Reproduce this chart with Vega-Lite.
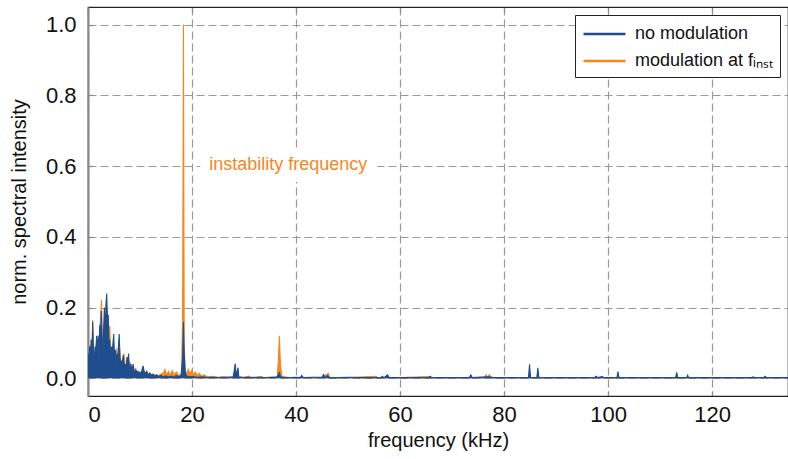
{
  "$schema": "https://vega.github.io/schema/vega-lite/v6.json",
  "width": 700,
  "height": 389,
  "autosize": "none",
  "padding": {"left": 88, "top": 7, "right": 0, "bottom": 63},
  "background": "white",
  "config": {
    "font": "Liberation Sans",
    "view": {"stroke": "#222", "strokeWidth": 1.2},
    "axis": {
      "labelFont": "Liberation Sans",
      "titleFont": "Liberation Sans",
      "labelFontSize": 22,
      "titleFontSize": 20,
      "labelColor": "#111",
      "titleColor": "#111",
      "titleFontWeight": "normal",
      "gridColor": "#999",
      "gridDash": [8, 4],
      "gridWidth": 1.2,
      "tickColor": "#888",
      "tickWidth": 1.2
    }
  },
  "datasets": {
    "spec": [
      {"f": 0.0, "v": 0.06, "s": "modulation at f_inst"},
      {"f": 0.15, "v": 0.03, "s": "modulation at f_inst"},
      {"f": 0.3, "v": 0.09, "s": "modulation at f_inst"},
      {"f": 0.4, "v": 0.093, "s": "modulation at f_inst"},
      {"f": 0.5, "v": 0.05, "s": "modulation at f_inst"},
      {"f": 0.75, "v": 0.06, "s": "modulation at f_inst"},
      {"f": 0.9, "v": 0.165, "s": "modulation at f_inst"},
      {"f": 1.05, "v": 0.07, "s": "modulation at f_inst"},
      {"f": 1.3, "v": 0.05, "s": "modulation at f_inst"},
      {"f": 1.65, "v": 0.11, "s": "modulation at f_inst"},
      {"f": 1.95, "v": 0.10, "s": "modulation at f_inst"},
      {"f": 2.25, "v": 0.13, "s": "modulation at f_inst"},
      {"f": 2.6, "v": 0.222, "s": "modulation at f_inst"},
      {"f": 2.75, "v": 0.1, "s": "modulation at f_inst"},
      {"f": 3.0, "v": 0.12, "s": "modulation at f_inst"},
      {"f": 3.45, "v": 0.17, "s": "modulation at f_inst"},
      {"f": 3.6, "v": 0.2, "s": "modulation at f_inst"},
      {"f": 3.9, "v": 0.15, "s": "modulation at f_inst"},
      {"f": 4.2, "v": 0.145, "s": "modulation at f_inst"},
      {"f": 4.35, "v": 0.05, "s": "modulation at f_inst"},
      {"f": 4.8, "v": 0.08, "s": "modulation at f_inst"},
      {"f": 5.1, "v": 0.05, "s": "modulation at f_inst"},
      {"f": 5.5, "v": 0.085, "s": "modulation at f_inst"},
      {"f": 5.7, "v": 0.04, "s": "modulation at f_inst"},
      {"f": 6.0, "v": 0.1, "s": "modulation at f_inst"},
      {"f": 6.3, "v": 0.03, "s": "modulation at f_inst"},
      {"f": 6.9, "v": 0.07, "s": "modulation at f_inst"},
      {"f": 7.2, "v": 0.03, "s": "modulation at f_inst"},
      {"f": 7.8, "v": 0.05, "s": "modulation at f_inst"},
      {"f": 8.6, "v": 0.03, "s": "modulation at f_inst"},
      {"f": 9.2, "v": 0.02, "s": "modulation at f_inst"},
      {"f": 10.0, "v": 0.015, "s": "modulation at f_inst"},
      {"f": 10.6, "v": 0.02, "s": "modulation at f_inst"},
      {"f": 11.5, "v": 0.012, "s": "modulation at f_inst"},
      {"f": 12.5, "v": 0.01, "s": "modulation at f_inst"},
      {"f": 13.5, "v": 0.008, "s": "modulation at f_inst"},
      {"f": 14.5, "v": 0.015, "s": "modulation at f_inst"},
      {"f": 14.8, "v": 0.025, "s": "modulation at f_inst"},
      {"f": 15.1, "v": 0.01, "s": "modulation at f_inst"},
      {"f": 15.5, "v": 0.02, "s": "modulation at f_inst"},
      {"f": 15.8, "v": 0.008, "s": "modulation at f_inst"},
      {"f": 16.2, "v": 0.022, "s": "modulation at f_inst"},
      {"f": 16.5, "v": 0.01, "s": "modulation at f_inst"},
      {"f": 17.0, "v": 0.018, "s": "modulation at f_inst"},
      {"f": 17.5, "v": 0.008, "s": "modulation at f_inst"},
      {"f": 18.0, "v": 0.012, "s": "modulation at f_inst"},
      {"f": 18.2, "v": 0.2, "s": "modulation at f_inst"},
      {"f": 18.35, "v": 1.0, "s": "modulation at f_inst"},
      {"f": 18.5, "v": 0.1, "s": "modulation at f_inst"},
      {"f": 18.7, "v": 0.02, "s": "modulation at f_inst"},
      {"f": 19.0, "v": 0.015, "s": "modulation at f_inst"},
      {"f": 19.3, "v": 0.025, "s": "modulation at f_inst"},
      {"f": 19.6, "v": 0.012, "s": "modulation at f_inst"},
      {"f": 19.9, "v": 0.022, "s": "modulation at f_inst"},
      {"f": 20.2, "v": 0.01, "s": "modulation at f_inst"},
      {"f": 20.6, "v": 0.018, "s": "modulation at f_inst"},
      {"f": 21.0, "v": 0.008, "s": "modulation at f_inst"},
      {"f": 21.4, "v": 0.014, "s": "modulation at f_inst"},
      {"f": 21.8, "v": 0.006, "s": "modulation at f_inst"},
      {"f": 22.3, "v": 0.01, "s": "modulation at f_inst"},
      {"f": 23.0, "v": 0.004, "s": "modulation at f_inst"},
      {"f": 24.0, "v": 0.006, "s": "modulation at f_inst"},
      {"f": 25.0, "v": 0.003, "s": "modulation at f_inst"},
      {"f": 26.0, "v": 0.004, "s": "modulation at f_inst"},
      {"f": 28.0, "v": 0.003, "s": "modulation at f_inst"},
      {"f": 30.0, "v": 0.003, "s": "modulation at f_inst"},
      {"f": 30.9, "v": 0.006, "s": "modulation at f_inst"},
      {"f": 31.2, "v": 0.002, "s": "modulation at f_inst"},
      {"f": 33.4, "v": 0.005, "s": "modulation at f_inst"},
      {"f": 33.7, "v": 0.002, "s": "modulation at f_inst"},
      {"f": 36.4, "v": 0.003, "s": "modulation at f_inst"},
      {"f": 36.6, "v": 0.05, "s": "modulation at f_inst"},
      {"f": 36.8, "v": 0.12, "s": "modulation at f_inst"},
      {"f": 37.0, "v": 0.04, "s": "modulation at f_inst"},
      {"f": 37.3, "v": 0.003, "s": "modulation at f_inst"},
      {"f": 37.6, "v": 0.006, "s": "modulation at f_inst"},
      {"f": 37.9, "v": 0.002, "s": "modulation at f_inst"},
      {"f": 40.0, "v": 0.002, "s": "modulation at f_inst"},
      {"f": 45.0, "v": 0.002, "s": "modulation at f_inst"},
      {"f": 46.2, "v": 0.014, "s": "modulation at f_inst"},
      {"f": 46.5, "v": 0.002, "s": "modulation at f_inst"},
      {"f": 50.0, "v": 0.002, "s": "modulation at f_inst"},
      {"f": 55.4, "v": 0.006, "s": "modulation at f_inst"},
      {"f": 55.7, "v": 0.002, "s": "modulation at f_inst"},
      {"f": 60.0, "v": 0.002, "s": "modulation at f_inst"},
      {"f": 65.8, "v": 0.005, "s": "modulation at f_inst"},
      {"f": 66.1, "v": 0.002, "s": "modulation at f_inst"},
      {"f": 70.0, "v": 0.002, "s": "modulation at f_inst"},
      {"f": 76.3, "v": 0.002, "s": "modulation at f_inst"},
      {"f": 76.5, "v": 0.01, "s": "modulation at f_inst"},
      {"f": 76.8, "v": 0.004, "s": "modulation at f_inst"},
      {"f": 77.2, "v": 0.01, "s": "modulation at f_inst"},
      {"f": 77.5, "v": 0.002, "s": "modulation at f_inst"},
      {"f": 80.0, "v": 0.002, "s": "modulation at f_inst"},
      {"f": 90.0, "v": 0.002, "s": "modulation at f_inst"},
      {"f": 100.0, "v": 0.002, "s": "modulation at f_inst"},
      {"f": 110.0, "v": 0.002, "s": "modulation at f_inst"},
      {"f": 120.0, "v": 0.002, "s": "modulation at f_inst"},
      {"f": 134.6, "v": 0.002, "s": "modulation at f_inst"},

      {"f": 0.0, "v": 0.07, "s": "no modulation"},
      {"f": 0.15, "v": 0.03, "s": "no modulation"},
      {"f": 0.3, "v": 0.09, "s": "no modulation"},
      {"f": 0.45, "v": 0.05, "s": "no modulation"},
      {"f": 0.6, "v": 0.11, "s": "no modulation"},
      {"f": 0.75, "v": 0.06, "s": "no modulation"},
      {"f": 0.9, "v": 0.16, "s": "no modulation"},
      {"f": 1.05, "v": 0.08, "s": "no modulation"},
      {"f": 1.2, "v": 0.04, "s": "no modulation"},
      {"f": 1.35, "v": 0.09, "s": "no modulation"},
      {"f": 1.5, "v": 0.06, "s": "no modulation"},
      {"f": 1.65, "v": 0.12, "s": "no modulation"},
      {"f": 1.8, "v": 0.07, "s": "no modulation"},
      {"f": 1.95, "v": 0.12, "s": "no modulation"},
      {"f": 2.1, "v": 0.05, "s": "no modulation"},
      {"f": 2.25, "v": 0.15, "s": "no modulation"},
      {"f": 2.4, "v": 0.09, "s": "no modulation"},
      {"f": 2.55, "v": 0.19, "s": "no modulation"},
      {"f": 2.7, "v": 0.12, "s": "no modulation"},
      {"f": 2.85, "v": 0.05, "s": "no modulation"},
      {"f": 3.0, "v": 0.14, "s": "no modulation"},
      {"f": 3.15, "v": 0.2, "s": "no modulation"},
      {"f": 3.3, "v": 0.11, "s": "no modulation"},
      {"f": 3.45, "v": 0.21, "s": "no modulation"},
      {"f": 3.6, "v": 0.24, "s": "no modulation"},
      {"f": 3.75, "v": 0.15, "s": "no modulation"},
      {"f": 3.9, "v": 0.18, "s": "no modulation"},
      {"f": 4.05, "v": 0.08, "s": "no modulation"},
      {"f": 4.2, "v": 0.11, "s": "no modulation"},
      {"f": 4.35, "v": 0.04, "s": "no modulation"},
      {"f": 4.5, "v": 0.09, "s": "no modulation"},
      {"f": 4.65, "v": 0.07, "s": "no modulation"},
      {"f": 4.8, "v": 0.1, "s": "no modulation"},
      {"f": 4.95, "v": 0.125, "s": "no modulation"},
      {"f": 5.1, "v": 0.06, "s": "no modulation"},
      {"f": 5.25, "v": 0.08, "s": "no modulation"},
      {"f": 5.4, "v": 0.03, "s": "no modulation"},
      {"f": 5.55, "v": 0.07, "s": "no modulation"},
      {"f": 5.7, "v": 0.05, "s": "no modulation"},
      {"f": 5.85, "v": 0.09, "s": "no modulation"},
      {"f": 6.0, "v": 0.125, "s": "no modulation"},
      {"f": 6.15, "v": 0.06, "s": "no modulation"},
      {"f": 6.3, "v": 0.035, "s": "no modulation"},
      {"f": 6.45, "v": 0.05, "s": "no modulation"},
      {"f": 6.6, "v": 0.03, "s": "no modulation"},
      {"f": 6.75, "v": 0.065, "s": "no modulation"},
      {"f": 6.9, "v": 0.05, "s": "no modulation"},
      {"f": 7.05, "v": 0.02, "s": "no modulation"},
      {"f": 7.2, "v": 0.04, "s": "no modulation"},
      {"f": 7.35, "v": 0.03, "s": "no modulation"},
      {"f": 7.5, "v": 0.06, "s": "no modulation"},
      {"f": 7.65, "v": 0.045, "s": "no modulation"},
      {"f": 7.8, "v": 0.07, "s": "no modulation"},
      {"f": 7.95, "v": 0.03, "s": "no modulation"},
      {"f": 8.1, "v": 0.02, "s": "no modulation"},
      {"f": 8.25, "v": 0.04, "s": "no modulation"},
      {"f": 8.4, "v": 0.025, "s": "no modulation"},
      {"f": 8.55, "v": 0.03, "s": "no modulation"},
      {"f": 8.7, "v": 0.04, "s": "no modulation"},
      {"f": 8.85, "v": 0.02, "s": "no modulation"},
      {"f": 9.0, "v": 0.015, "s": "no modulation"},
      {"f": 9.2, "v": 0.025, "s": "no modulation"},
      {"f": 9.4, "v": 0.015, "s": "no modulation"},
      {"f": 9.6, "v": 0.02, "s": "no modulation"},
      {"f": 9.8, "v": 0.012, "s": "no modulation"},
      {"f": 10.0, "v": 0.018, "s": "no modulation"},
      {"f": 10.2, "v": 0.01, "s": "no modulation"},
      {"f": 10.4, "v": 0.025, "s": "no modulation"},
      {"f": 10.6, "v": 0.035, "s": "no modulation"},
      {"f": 10.8, "v": 0.02, "s": "no modulation"},
      {"f": 11.0, "v": 0.012, "s": "no modulation"},
      {"f": 11.3, "v": 0.02, "s": "no modulation"},
      {"f": 11.6, "v": 0.01, "s": "no modulation"},
      {"f": 11.9, "v": 0.015, "s": "no modulation"},
      {"f": 12.2, "v": 0.008, "s": "no modulation"},
      {"f": 12.5, "v": 0.012, "s": "no modulation"},
      {"f": 12.8, "v": 0.006, "s": "no modulation"},
      {"f": 13.2, "v": 0.01, "s": "no modulation"},
      {"f": 13.6, "v": 0.005, "s": "no modulation"},
      {"f": 14.0, "v": 0.008, "s": "no modulation"},
      {"f": 14.5, "v": 0.004, "s": "no modulation"},
      {"f": 15.0, "v": 0.007, "s": "no modulation"},
      {"f": 15.5, "v": 0.004, "s": "no modulation"},
      {"f": 16.0, "v": 0.006, "s": "no modulation"},
      {"f": 16.5, "v": 0.003, "s": "no modulation"},
      {"f": 17.0, "v": 0.008, "s": "no modulation"},
      {"f": 17.5, "v": 0.004, "s": "no modulation"},
      {"f": 17.9, "v": 0.01, "s": "no modulation"},
      {"f": 18.2, "v": 0.06, "s": "no modulation"},
      {"f": 18.35, "v": 0.16, "s": "no modulation"},
      {"f": 18.5, "v": 0.07, "s": "no modulation"},
      {"f": 18.7, "v": 0.015, "s": "no modulation"},
      {"f": 19.0, "v": 0.006, "s": "no modulation"},
      {"f": 19.5, "v": 0.004, "s": "no modulation"},
      {"f": 20.0, "v": 0.005, "s": "no modulation"},
      {"f": 21.0, "v": 0.003, "s": "no modulation"},
      {"f": 22.0, "v": 0.004, "s": "no modulation"},
      {"f": 23.0, "v": 0.002, "s": "no modulation"},
      {"f": 24.0, "v": 0.003, "s": "no modulation"},
      {"f": 25.0, "v": 0.002, "s": "no modulation"},
      {"f": 26.0, "v": 0.003, "s": "no modulation"},
      {"f": 27.0, "v": 0.003, "s": "no modulation"},
      {"f": 27.9, "v": 0.004, "s": "no modulation"},
      {"f": 28.1, "v": 0.02, "s": "no modulation"},
      {"f": 28.3, "v": 0.042, "s": "no modulation"},
      {"f": 28.5, "v": 0.01, "s": "no modulation"},
      {"f": 28.7, "v": 0.02, "s": "no modulation"},
      {"f": 28.85, "v": 0.03, "s": "no modulation"},
      {"f": 29.0, "v": 0.004, "s": "no modulation"},
      {"f": 30.0, "v": 0.002, "s": "no modulation"},
      {"f": 31.0, "v": 0.003, "s": "no modulation"},
      {"f": 32.0, "v": 0.002, "s": "no modulation"},
      {"f": 33.0, "v": 0.003, "s": "no modulation"},
      {"f": 34.0, "v": 0.002, "s": "no modulation"},
      {"f": 35.0, "v": 0.003, "s": "no modulation"},
      {"f": 36.3, "v": 0.004, "s": "no modulation"},
      {"f": 36.6, "v": 0.01, "s": "no modulation"},
      {"f": 36.8, "v": 0.016, "s": "no modulation"},
      {"f": 37.0, "v": 0.006, "s": "no modulation"},
      {"f": 37.3, "v": 0.002, "s": "no modulation"},
      {"f": 38.0, "v": 0.003, "s": "no modulation"},
      {"f": 39.0, "v": 0.002, "s": "no modulation"},
      {"f": 40.0, "v": 0.003, "s": "no modulation"},
      {"f": 40.8, "v": 0.002, "s": "no modulation"},
      {"f": 41.1, "v": 0.008, "s": "no modulation"},
      {"f": 41.4, "v": 0.002, "s": "no modulation"},
      {"f": 43.0, "v": 0.003, "s": "no modulation"},
      {"f": 45.0, "v": 0.003, "s": "no modulation"},
      {"f": 45.3, "v": 0.011, "s": "no modulation"},
      {"f": 45.6, "v": 0.002, "s": "no modulation"},
      {"f": 46.1, "v": 0.008, "s": "no modulation"},
      {"f": 46.4, "v": 0.002, "s": "no modulation"},
      {"f": 48.0, "v": 0.002, "s": "no modulation"},
      {"f": 50.0, "v": 0.003, "s": "no modulation"},
      {"f": 52.0, "v": 0.002, "s": "no modulation"},
      {"f": 54.0, "v": 0.002, "s": "no modulation"},
      {"f": 56.3, "v": 0.002, "s": "no modulation"},
      {"f": 56.6, "v": 0.006, "s": "no modulation"},
      {"f": 56.9, "v": 0.002, "s": "no modulation"},
      {"f": 57.6, "v": 0.01, "s": "no modulation"},
      {"f": 57.9, "v": 0.002, "s": "no modulation"},
      {"f": 60.0, "v": 0.002, "s": "no modulation"},
      {"f": 62.0, "v": 0.002, "s": "no modulation"},
      {"f": 65.5, "v": 0.002, "s": "no modulation"},
      {"f": 65.8, "v": 0.006, "s": "no modulation"},
      {"f": 66.1, "v": 0.002, "s": "no modulation"},
      {"f": 70.0, "v": 0.002, "s": "no modulation"},
      {"f": 73.3, "v": 0.002, "s": "no modulation"},
      {"f": 73.6, "v": 0.01, "s": "no modulation"},
      {"f": 73.9, "v": 0.002, "s": "no modulation"},
      {"f": 76.5, "v": 0.004, "s": "no modulation"},
      {"f": 77.2, "v": 0.004, "s": "no modulation"},
      {"f": 78.0, "v": 0.002, "s": "no modulation"},
      {"f": 82.0, "v": 0.002, "s": "no modulation"},
      {"f": 84.7, "v": 0.002, "s": "no modulation"},
      {"f": 84.9, "v": 0.04, "s": "no modulation"},
      {"f": 85.1, "v": 0.002, "s": "no modulation"},
      {"f": 86.3, "v": 0.002, "s": "no modulation"},
      {"f": 86.5, "v": 0.03, "s": "no modulation"},
      {"f": 86.7, "v": 0.002, "s": "no modulation"},
      {"f": 90.0, "v": 0.002, "s": "no modulation"},
      {"f": 94.0, "v": 0.002, "s": "no modulation"},
      {"f": 97.4, "v": 0.002, "s": "no modulation"},
      {"f": 97.7, "v": 0.006, "s": "no modulation"},
      {"f": 98.0, "v": 0.002, "s": "no modulation"},
      {"f": 98.9, "v": 0.005, "s": "no modulation"},
      {"f": 99.2, "v": 0.002, "s": "no modulation"},
      {"f": 101.7, "v": 0.002, "s": "no modulation"},
      {"f": 101.9, "v": 0.019, "s": "no modulation"},
      {"f": 102.1, "v": 0.002, "s": "no modulation"},
      {"f": 106.0, "v": 0.002, "s": "no modulation"},
      {"f": 110.0, "v": 0.002, "s": "no modulation"},
      {"f": 113.0, "v": 0.002, "s": "no modulation"},
      {"f": 113.2, "v": 0.017, "s": "no modulation"},
      {"f": 113.4, "v": 0.002, "s": "no modulation"},
      {"f": 115.1, "v": 0.002, "s": "no modulation"},
      {"f": 115.3, "v": 0.009, "s": "no modulation"},
      {"f": 115.5, "v": 0.002, "s": "no modulation"},
      {"f": 120.0, "v": 0.002, "s": "no modulation"},
      {"f": 124.0, "v": 0.002, "s": "no modulation"},
      {"f": 127.6, "v": 0.002, "s": "no modulation"},
      {"f": 127.9, "v": 0.004, "s": "no modulation"},
      {"f": 128.2, "v": 0.002, "s": "no modulation"},
      {"f": 129.9, "v": 0.002, "s": "no modulation"},
      {"f": 130.2, "v": 0.006, "s": "no modulation"},
      {"f": 130.5, "v": 0.002, "s": "no modulation"},
      {"f": 134.6, "v": 0.002, "s": "no modulation"}
    ],
    "ann": [
      {"f": 23.3, "v": 0.603, "f0": 21.6, "f1": 55.6, "v0": 0.555, "v1": 0.65, "label": "instability frequency"}
    ]
  },
  "layer": [
    {
      "data": {"name": "spec"},
      "transform": [{"filter": "datum.s === 'modulation at f_inst'"}],
      "mark": {"type": "area", "opacity": 1, "clip": true, "line": {"strokeWidth": 1.1}},
      "encoding": {
        "x": {"field": "f", "type": "quantitative", "scale": {"domain": [0, 134.6], "nice": false, "zero": false},
              "axis": {"title": "frequency (kHz)", "values": [0, 20, 40, 60, 80, 100, 120], "format": "d", "domainColor": "#222", "domainWidth": 1.2, "tickSize": -5, "labelPadding": 13, "titlePadding": 5}},
        "y": {"field": "v", "type": "quantitative", "scale": {"domain": [-0.05, 1.05], "nice": false, "zero": false},
              "axis": {"title": "norm. spectral intensity", "values": [0, 0.2, 0.4, 0.6, 0.8, 1.0], "format": ".1f", "domainColor": "#888", "domainWidth": 2, "tickSize": -5, "labelPadding": 17, "titlePadding": 16}},
        "color": {"field": "s", "type": "nominal",
                  "scale": {"domain": ["no modulation", "modulation at f_inst"], "range": ["#1f4e8f", "#f5871f"]},
                  "legend": {"title": null, "orient": "top-right", "offset": 8, "labelFontSize": 18, "labelFont": "Liberation Sans", "labelColor": "#111",
                             "labelExpr": "datum.label === 'no modulation' ? 'no modulation' : 'modulation at fᵢₙₛₜ'",
                             "symbolType": "M-1,0H3", "symbolStrokeWidth": 2.5, "symbolSize": 441, "symbolFillColor": "transparent",
                             "strokeColor": "#222", "fillColor": "white", "padding": 7, "rowPadding": 6, "labelOffset": 29}}
      }
    },
    {
      "data": {"name": "spec"},
      "transform": [{"filter": "datum.s === 'no modulation'"}],
      "mark": {"type": "area", "opacity": 1, "clip": true, "line": {"strokeWidth": 1.1}},
      "encoding": {
        "x": {"field": "f", "type": "quantitative", "axis": null},
        "y": {"field": "v", "type": "quantitative", "axis": null},
        "color": {"field": "s", "type": "nominal"}
      }
    },
    {
      "data": {"name": "ann"},
      "mark": {"type": "rect", "color": "white"},
      "encoding": {
        "x": {"field": "f0", "type": "quantitative", "axis": null},
        "x2": {"field": "f1"},
        "y": {"field": "v0", "type": "quantitative", "axis": null},
        "y2": {"field": "v1"}
      }
    },
    {
      "data": {"name": "ann"},
      "mark": {"type": "text", "align": "left", "baseline": "middle", "fontSize": 18, "font": "Liberation Sans", "color": "#f5871f"},
      "encoding": {
        "x": {"field": "f", "type": "quantitative", "axis": {"orient": "top", "labels": false, "title": null, "grid": false, "values": [0, 20, 40, 60, 80, 100, 120], "tickSize": -5, "domainColor": "#222", "domainWidth": 1.2}},
        "y": {"field": "v", "type": "quantitative", "axis": null},
        "text": {"field": "label"}
      }
    }
  ],
  "resolve": {"axis": {"x": "independent", "y": "independent"}}
}
